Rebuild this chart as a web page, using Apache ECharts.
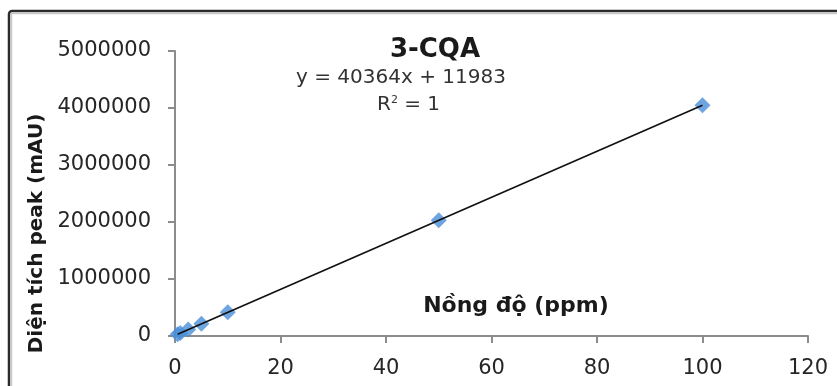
<!DOCTYPE html>
<html>
<head>
<meta charset="utf-8">
<script src="https://cdn.jsdelivr.net/npm/echarts@6/dist/echarts.min.js"></script>
<style>html,body{margin:0;padding:0;background:#fff;}#c{width:837px;height:386px;}</style>
</head>
<body>
<div id="c"></div>
<script>
// Data
var concentrations = [0.5, 1, 2.5, 5, 10, 50, 100];          // ppm
var peakAreas = [32000, 52000, 113000, 214000, 416000, 2030000, 4048000]; // mAU
var trendX = [0.5, 100];
var trendY = [32165, 4048383];
var xTicks = [0, 20, 40, 60, 80, 100, 120];
var yTicks = [0, 1000000, 2000000, 3000000, 4000000, 5000000];
var titleText = '3-CQA';
var equationText = 'y = 40364x + 11983';
var xName = 'Nồng độ (ppm)';
var yName = 'Diện tích peak (mAU)';

var chart = echarts.init(document.getElementById('c'), null, {renderer: 'canvas'});
var font = 'DejaVu Sans';
var labelColor = '#262626';
var axisColor = '#8c8c8c';

chart.setOption({
  animation: false,
  backgroundColor: '#fff',
  title: {
    text: titleText,
    left: 430, top: 45, textAlign: 'center', textVerticalAlign: 'middle',
    textStyle: {fontFamily: font, fontWeight: 'bold', fontSize: 26, color: '#1a1a1a'}
  },
  grid: {left: 175, right: 29, top: 51, bottom: 50, containLabel: false},
  xAxis: {
    type: 'value', min: xTicks[0], max: xTicks[xTicks.length - 1], interval: 20,
    splitLine: {show: false},
    axisLine: {show: true, onZero: false, lineStyle: {color: axisColor, width: 2}},
    axisTick: {show: true, length: 7, lineStyle: {color: axisColor, width: 2}},
    axisLabel: {fontFamily: font, fontSize: 21, color: labelColor, margin: 22},
    name: xName, nameLocation: 'middle', nameGap: -41,
    nameTextStyle: {fontFamily: font, fontWeight: 'bold', fontSize: 22, color: '#1a1a1a', padding: [0, 0, 0, 49]}
  },
  yAxis: {
    type: 'value', min: yTicks[0], max: yTicks[yTicks.length - 1], interval: 1000000,
    splitLine: {show: false},
    axisLine: {show: true, onZero: false, lineStyle: {color: axisColor, width: 2}},
    axisTick: {show: true, length: 7, lineStyle: {color: axisColor, width: 2}},
    axisLabel: {fontFamily: font, fontSize: 21, color: labelColor, margin: 24,
      formatter: function (v) { return String(v); }},
    name: yName, nameLocation: 'middle', nameGap: 128,
    nameTextStyle: {fontFamily: font, fontWeight: 'bold', fontSize: 20, color: '#1a1a1a', padding: [0, 80, 0, 0]}
  },
  graphic: [
    {type: 'rect', shape: {x: 9, y: 11, width: 900, height: 500, r: 3}, style: {fill: 'none', stroke: '#2b2b2b', lineWidth: 2.5}, z: 0},
    {type: 'rect', shape: {x: 11.5, y: 13.5, width: 900, height: 500}, style: {fill: 'none', stroke: '#c8c8c8', lineWidth: 1.5}, z: 0},
    {type: 'text', left: 296, top: 68, style: {text: equationText, font: '20px "DejaVu Sans"', fill: '#333'}, z: 10},
    {type: 'text', left: 377, top: 95, style: {rich: {b: {fontFamily: font, fontSize: 20, fill: '#333'}, s: {fontFamily: font, fontSize: 11, verticalAlign: 'top', fill: '#333', padding: [0,0,8,0]}}, text: '{b|R}{s|2}{b| = 1}'}, z: 10}
  ],
  series: [
    {
      type: 'scatter', name: 'data',
      data: concentrations.map(function (x, i) { return [x, peakAreas[i]]; }),
      symbol: 'diamond', symbolSize: 16,
      itemStyle: {color: '#4a8ed8'}, z: 2
    },
    {
      type: 'line', name: 'trend',
      data: trendX.map(function (x, i) { return [x, trendY[i]]; }),
      showSymbol: false, symbol: 'none',
      lineStyle: {color: '#111', width: 1.7}, z: 3
    }
  ]
});
</script>
</body>
</html>
